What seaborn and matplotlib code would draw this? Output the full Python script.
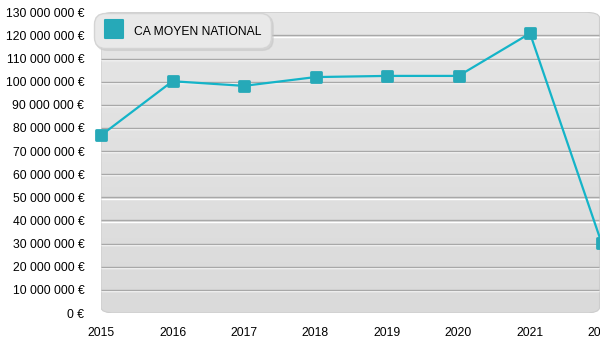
import numpy as np
import pandas as pd
import matplotlib
matplotlib.use("Agg")
import matplotlib.pyplot as plt
import matplotlib.transforms as mtransforms
from matplotlib.patches import FancyBboxPatch
from matplotlib.lines import Line2D
from matplotlib.markers import MarkerStyle
from matplotlib.colors import LinearSegmentedColormap
import seaborn as sns

years = [2015, 2016, 2017, 2018, 2019, 2020, 2021, 2022]
ca_moyen = [76.8e6, 100.2e6, 98.2e6, 102.0e6, 102.5e6, 102.5e6, 120.9e6, 30.4e6]
series_name = "CA MOYEN NATIONAL"
y_ticks = [0, 10e6, 20e6, 30e6, 40e6, 50e6, 60e6, 70e6, 80e6, 90e6, 100e6, 110e6, 120e6, 130e6]
y_tick_labels = ["0 €", "10 000 000 €", "20 000 000 €", "30 000 000 €", "40 000 000 €",
                 "50 000 000 €", "60 000 000 €", "70 000 000 €", "80 000 000 €",
                 "90 000 000 €", "100 000 000 €", "110 000 000 €", "120 000 000 €",
                 "130 000 000 €"]
x_tick_labels = ["2015", "2016", "2017", "2018", "2019", "2020", "2021", "2022"]

df = pd.DataFrame({"year": years, "ca": ca_moyen})

sns.set_theme(style="white")
plt.rcParams["font.family"] = ["Liberation Sans", "DejaVu Sans"]

W, H = 600, 350
fig = plt.figure(figsize=(6, 3.5), dpi=100)
left = 101 / W
bottom = (H - 313) / H
width = (601.5 - 101) / W
height = (313 - 12.3) / H
ax = fig.add_axes([left, bottom, width, height])
ax.set_facecolor("none")
for s in ax.spines.values():
    s.set_visible(False)

ax.set_xlim(2015, 2022)
ax.set_ylim(0, 130e6)

# rounded gradient background
bg = FancyBboxPatch((0, 0), 0.996, 1.0, boxstyle="round,pad=0,rounding_size=0.03",
                    transform=ax.transAxes, facecolor="none", edgecolor="#cdcdcd",
                    linewidth=0.8, zorder=1, mutation_aspect=height * H / (width * W))
ax.add_patch(bg)
grad = np.linspace(0, 1, 256).reshape(-1, 1)
cmap = LinearSegmentedColormap.from_list("bg", ["#e6e6e6", "#dadada"])
im = ax.imshow(grad, cmap=cmap, extent=[0, 0.996, 0, 1], transform=ax.transAxes,
               aspect="auto", zorder=0, origin="upper")
im.set_clip_path(bg)

# gridlines: dark line with white highlight below
white_off = mtransforms.offset_copy(ax.transData, fig=fig, x=0, y=-1.2, units="dots")
for v in y_ticks[1:-1]:
    ax.plot([0, 0.996], [v, v], transform=mtransforms.blended_transform_factory(ax.transAxes, white_off),
            color="#ffffff", lw=1.0, zorder=1.5, solid_capstyle="butt")
    ax.plot([0, 0.996], [v, v], transform=mtransforms.blended_transform_factory(ax.transAxes, ax.transData),
            color="#a8a8a8", lw=1.0, zorder=1.6, solid_capstyle="butt")

line_color = "#14b4c8"
marker_color = "#26a9b8"
sq = MarkerStyle("s", joinstyle="round")
sns.lineplot(data=df, x="year", y="ca", ax=ax, color=line_color, linewidth=1.6,
             marker=sq, markersize=6.8, markerfacecolor=marker_color,
             markeredgecolor=marker_color, markeredgewidth=2.0, zorder=5, clip_on=False,
             legend=False)

ax.set_xticks(years)
ax.set_xticklabels(x_tick_labels)
ax.set_yticks(y_ticks)
ax.set_yticklabels(y_tick_labels)
ax.tick_params(axis="both", length=0, labelsize=8.7, colors="#000000")
ax.tick_params(axis="y", pad=12)
ax.tick_params(axis="x", pad=10)
ax.set_xlabel("")
ax.set_ylabel("")

handle = Line2D([], [], linestyle="none", marker=MarkerStyle("s", joinstyle="round"),
                markersize=12.5, markerfacecolor=marker_color, markeredgecolor=marker_color,
                markeredgewidth=1.5)
leg = fig.legend([handle], [series_name], loc="upper left",
                 bbox_to_anchor=(94 / W, 1 - 13 / H), bbox_transform=fig.transFigure,
                 borderaxespad=0, fontsize=8.7, frameon=True, fancybox=True,
                 facecolor="#e9e9e9", edgecolor="#d4d4d4", framealpha=1,
                 borderpad=0.8, handlelength=1.65, handleheight=1.65, handletextpad=0.85,
                 shadow={"color": "#c4c4c4", "alpha": 0.5, "ox": 1.5, "oy": -1.5})
leg.get_frame().set_boxstyle("round,pad=0,rounding_size=0.9")
for t in leg.get_texts():
    t.set_color("#000000")
leg.set_zorder(10)

fig.savefig("out.png", dpi=100)
